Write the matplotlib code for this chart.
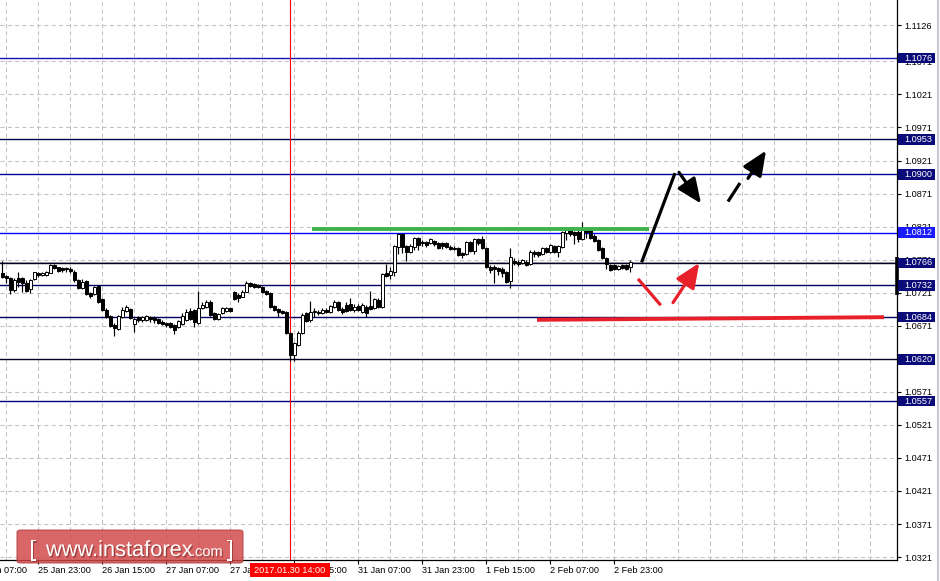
import matplotlib
matplotlib.use("Agg")
import matplotlib.pyplot as plt
import matplotlib.transforms as mtrans
from matplotlib.patches import Rectangle, FancyBboxPatch
from matplotlib.lines import Line2D
import matplotlib.patheffects as pe

plt.rcParams['font.family'] = ['Liberation Sans', 'DejaVu Sans']

# ---------------- data ----------------
start_bar = 7
opens = [1.0751,1.0746,1.0743,1.0725,1.0743,1.0743,1.0736,1.0727,1.0742,1.0751,
         1.0748,1.0748,1.0751,1.0763,1.0760,1.0758,1.0758,1.0757,1.0752,1.0740,
         1.0728,1.0739,1.0721,1.0719,1.0731,1.0712,1.0695,1.0686,1.0672,1.0666,
         1.0684,1.0693,1.0696,1.0674,1.0684,1.0680,1.0680,1.0684,1.0683,1.0681,
         1.0677,1.0675,1.0675,1.0672,1.0669,1.0674,1.0680,1.0693,1.0695,1.0675,
         1.0698,1.0699,1.0707,1.0690,1.0681,1.0690,1.0693,1.0698,1.0722,1.0718,
         1.0715,1.0722,1.0736,1.0734,1.0733,1.0730,1.0724,1.0721,1.0701,1.0696,
         1.0693,1.0692,1.0660,1.0627,1.0642,1.0660,1.0690,1.0680,1.0692,1.0692,
         1.0690,1.0695,1.0692,1.0699,1.0707,1.0696,1.0702,1.0704,1.0695,1.0701,
         1.0692,1.0699,1.0701,1.0698,1.0710,1.0699,1.0751,1.0748,1.0752,1.0790,
         1.0810,1.0792,1.0783,1.0790,1.0804,1.0798,1.0798,1.0796,1.0799,1.0796,
         1.0796,1.0796,1.0790,1.0789,1.0789,1.0781,1.0780,1.0798,1.0784,1.0802,
         1.0802,1.0789,1.0760,1.0760,1.0758,1.0757,1.0752,1.0739,1.0769,1.0768,
         1.0766,1.0768,1.0764,1.0783,1.0783,1.0780,1.0789,1.0783,1.0792,1.0783,
         1.0790,1.0811,1.0816,1.0813,1.0813,1.0802,1.0819,1.0816,1.0807,1.0801,
         1.0789,1.0774,1.0763,1.0763,1.0757,1.0763,1.0763,1.0760]
highs = [1.0769,1.0748,1.0745,1.0743,1.0752,1.0745,1.0740,1.0742,1.0752,1.0752,
         1.0752,1.0754,1.0764,1.0764,1.0760,1.0760,1.0760,1.0760,1.0755,1.0742,
         1.0742,1.0740,1.0722,1.0731,1.0733,1.0713,1.0698,1.0687,1.0675,1.0687,
         1.0699,1.0702,1.0698,1.0683,1.0686,1.0686,1.0687,1.0686,1.0686,1.0683,
         1.0680,1.0677,1.0677,1.0674,1.0680,1.0690,1.0696,1.0698,1.0696,1.0724,
         1.0707,1.0710,1.0710,1.0692,1.0690,1.0699,1.0699,1.0699,1.0724,1.0721,
         1.0725,1.0739,1.0737,1.0736,1.0734,1.0731,1.0725,1.0722,1.0702,1.0698,
         1.0695,1.0693,1.0662,1.0646,1.0663,1.0690,1.0692,1.0709,1.0698,1.0695,
         1.0698,1.0698,1.0702,1.0710,1.0709,1.0699,1.0707,1.0713,1.0704,1.0704,
         1.0705,1.0702,1.0724,1.0713,1.0713,1.0751,1.0764,1.0760,1.0793,1.0811,
         1.0811,1.0793,1.0795,1.0805,1.0805,1.0801,1.0799,1.0804,1.0801,1.0798,
         1.0798,1.0798,1.0793,1.0792,1.0790,1.0783,1.0799,1.0799,1.0804,1.0804,
         1.0807,1.0790,1.0763,1.0763,1.0760,1.0760,1.0754,1.0789,1.0774,1.0771,
         1.0772,1.0771,1.0786,1.0786,1.0784,1.0790,1.0790,1.0795,1.0793,1.0793,
         1.0814,1.0817,1.0817,1.0814,1.0816,1.0828,1.0820,1.0819,1.0810,1.0802,
         1.0790,1.0775,1.0764,1.0764,1.0763,1.0764,1.0764,1.0771]
lows = [1.0743,1.0736,1.0719,1.0722,1.0730,1.0722,1.0722,1.0721,1.0740,1.0745,
        1.0746,1.0746,1.0751,1.0757,1.0752,1.0752,1.0752,1.0751,1.0737,1.0727,
        1.0727,1.0718,1.0713,1.0718,1.0705,1.0693,1.0683,1.0669,1.0656,1.0665,
        1.0683,1.0692,1.0681,1.0662,1.0677,1.0677,1.0678,1.0677,1.0675,1.0674,
        1.0672,1.0669,1.0668,1.0659,1.0668,1.0672,1.0678,1.0680,1.0669,1.0674,
        1.0696,1.0698,1.0686,1.0680,1.0680,1.0689,1.0692,1.0692,1.0710,1.0707,
        1.0715,1.0722,1.0730,1.0728,1.0728,1.0721,1.0718,1.0698,1.0693,1.0684,
        1.0689,1.0659,1.0618,1.0618,1.0640,1.0659,1.0677,1.0677,1.0684,1.0687,
        1.0689,1.0690,1.0690,1.0698,1.0693,1.0689,1.0692,1.0693,1.0692,1.0693,
        1.0690,1.0684,1.0695,1.0696,1.0698,1.0698,1.0745,1.0742,1.0746,1.0780,
        1.0781,1.0769,1.0781,1.0786,1.0786,1.0792,1.0790,1.0795,1.0792,1.0787,
        1.0787,1.0789,1.0786,1.0786,1.0777,1.0774,1.0778,1.0783,1.0780,1.0793,
        1.0787,1.0758,1.0751,1.0736,1.0748,1.0745,1.0736,1.0728,1.0763,1.0761,
        1.0764,1.0761,1.0763,1.0775,1.0775,1.0778,1.0781,1.0781,1.0781,1.0775,
        1.0789,1.0801,1.0807,1.0795,1.0798,1.0801,1.0804,1.0802,1.0798,1.0784,
        1.0772,1.0757,1.0754,1.0755,1.0755,1.0757,1.0755,1.0752]
closes = [1.0745,1.0743,1.0725,1.0740,1.0737,1.0736,1.0724,1.0740,1.0752,1.0748,
          1.0751,1.0752,1.0763,1.0758,1.0754,1.0755,1.0757,1.0754,1.0740,1.0728,
          1.0737,1.0719,1.0716,1.0730,1.0707,1.0695,1.0684,1.0671,1.0668,1.0686,
          1.0695,1.0699,1.0683,1.0681,1.0680,1.0684,1.0686,1.0681,1.0680,1.0675,
          1.0674,1.0672,1.0669,1.0665,1.0678,1.0686,1.0692,1.0681,1.0677,1.0698,
          1.0702,1.0707,1.0687,1.0681,1.0689,1.0698,1.0698,1.0693,1.0712,1.0713,
          1.0722,1.0736,1.0731,1.0730,1.0730,1.0722,1.0719,1.0699,1.0695,1.0692,
          1.0690,1.0660,1.0627,1.0645,1.0660,1.0687,1.0678,1.0692,1.0693,1.0690,
          1.0695,1.0692,1.0701,1.0707,1.0695,1.0692,1.0693,1.0695,1.0699,1.0695,
          1.0702,1.0690,1.0696,1.0712,1.0699,1.0749,1.0746,1.0754,1.0792,1.0810,
          1.0790,1.0783,1.0792,1.0804,1.0793,1.0796,1.0793,1.0802,1.0795,1.0789,
          1.0792,1.0790,1.0787,1.0787,1.0778,1.0778,1.0798,1.0784,1.0802,1.0796,
          1.0789,1.0760,1.0755,1.0757,1.0754,1.0751,1.0737,1.0775,1.0766,1.0764,
          1.0771,1.0763,1.0783,1.0780,1.0778,1.0789,1.0783,1.0793,1.0783,1.0792,
          1.0813,1.0816,1.0810,1.0808,1.0802,1.0816,1.0813,1.0804,1.0799,1.0786,
          1.0774,1.0764,1.0755,1.0757,1.0761,1.0758,1.0757,1.0768]
bars = list(range(start_bar, start_bar + len(opens)))

x_tick_bars = [16, 32, 48, 64, 80, 96, 112, 128, 144, 160]
x_tick_labels = ["25 Jan 23:00", "26 Jan 15:00", "27 Jan 07:00", "27 Jan 23:00",
                 "30 Jan 15:00", "31 Jan 07:00", "31 Jan 23:00", "1 Feb 15:00",
                 "2 Feb 07:00", "2 Feb 23:00"]
first_label_bar = 0
first_label = "25 Jan 07:00"

y_ticks = [1.1126, 1.1071, 1.1021, 1.0971, 1.0921, 1.0871, 1.0821, 1.0771, 1.0721,
           1.0671, 1.0621, 1.0571, 1.0521, 1.0471, 1.0421, 1.0371, 1.0321]

levels = [1.1076, 1.0953, 1.0900, 1.0812, 1.0766, 1.0732, 1.0684, 1.0620, 1.0557]
level_colors = ['#1414b4', '#000050', '#0000a0', '#0000ff', '#000028', '#000060',
                '#000060', '#000028', '#000080']
label_colors = ['#0a0a78', '#0a0a78', '#0a0a78', '#1a1aff', '#0a0a78', '#0a0a78',
                '#0a0a78', '#0a0a78', '#0a0a78']

marker_bar = 79
marker_label = "2017.01.30 14:00"

green_x = [84.4, 168.75]
green_y = [1.0818, 1.0818]
red_x = [140.75, 227.5]
red_y = [1.0680, 1.0684]
black_path_x = [166.9, 175.25]
black_path_y = [1.0767, 1.0902]
black_arrow_from = (176.25, 1.0903)
black_arrow_to = (181.75, 1.0856)
dash_seg_x = [188.5, 191.5]
dash_seg_y = [1.0859, 1.0887]
dash_arrow_from = (193.5, 1.0894)
dash_arrow_to = (198.0, 1.0936)
red_path_x = [166.0, 171.7]
red_path_y = [1.0742, 1.0702]
red_arrow_from = (174.75, 1.0706)
red_arrow_to = (181.3, 1.0766)

# ---------------- figure ----------------
W, H = 940, 581
fig = plt.figure(figsize=(W / 100, H / 100), dpi=100)
fig.patch.set_facecolor('white')
ax = fig.add_axes([0, 21 / H, 897 / W, 560 / H])
ax.set_xlim(6.5, 230.75)
ax.set_ylim(1.03166, 1.11639)
ax.set_facecolor('white')

for s in ['left', 'top']:
    ax.spines[s].set_visible(False)
for s in ['right', 'bottom']:
    ax.spines[s].set_color('black')
    ax.spines[s].set_linewidth(0.9)

blend_ay = mtrans.blended_transform_factory(ax.transAxes, ax.transData)
blend_xa = mtrans.blended_transform_factory(ax.transData, ax.transAxes)

# grid
for v in y_ticks:
    ax.axhline(v, color='#c3c3c3', lw=0.75, ls=(0, (4, 3)), zorder=0.5)
for k in range(8, 232, 8):
    ax.axvline(k, color='#c3c3c3', lw=0.75, ls=(0, (4, 3)), zorder=0.5)

# level lines
for lv, c in zip(levels, level_colors):
    ax.axhline(lv, color=c, lw=1.0, zorder=1.5)
# bid line
ax.axhline(closes[-1], color='#b4b4b4', lw=0.8, zorder=1.4)

# vertical marker line
ax.axvline(marker_bar, color='#ff0000', lw=0.8, zorder=1.6)

# candles
ax.vlines(bars, lows, highs, color='black', lw=0.85, zorder=3)
bottoms = [min(o, c) for o, c in zip(opens, closes)]
heights = [abs(c - o) for o, c in zip(opens, closes)]
fills = ['black' if c < o else 'white' for o, c in zip(opens, closes)]
ax.bar(bars, heights, bottom=bottoms, width=0.75, color=fills,
       edgecolor='black', linewidth=0.7, zorder=4)

# drawings
ax.plot(green_x, green_y, color='#3cb44b', lw=2.8, solid_capstyle='butt', zorder=5)
ax.plot(red_x, red_y, color='#e8202a', lw=2.8, solid_capstyle='butt', zorder=5)
ax.plot(black_path_x, black_path_y, color='black', lw=2.3, solid_capstyle='butt', zorder=6)
ax.plot(dash_seg_x, dash_seg_y, color='black', lw=2.3, solid_capstyle='butt', zorder=6)
ax.plot(red_path_x, red_path_y, color='#e8202a', lw=2.3, solid_capstyle='butt', zorder=6)
astyle = "-|>,head_length=15,head_width=6.5"
for (p0, p1, col) in [(black_arrow_from, black_arrow_to, 'black'),
                      (dash_arrow_from, dash_arrow_to, 'black'),
                      (red_arrow_from, red_arrow_to, '#e8202a')]:
    ax.annotate('', xy=p1, xytext=p0,
                arrowprops=dict(arrowstyle=astyle, mutation_scale=1, color=col,
                                lw=2.3, shrinkA=0, shrinkB=0), zorder=6)

# axes ticks
ax.yaxis.tick_right()
ax.set_yticks(y_ticks)
ax.set_yticklabels([f"{v:.4f}" for v in y_ticks])
ax.tick_params(axis='y', length=3, width=0.8, pad=2, labelsize=6.6, colors='black')
ax.set_xticks(x_tick_bars)
ax.set_xticklabels(x_tick_labels)
ax.tick_params(axis='x', length=3, width=0.8, pad=1.5, labelsize=6.6, colors='black')
for lab in ax.get_xticklabels():
    lab.set_ha('left')
ax.text(first_label_bar, -0.0112, first_label, transform=blend_xa, ha='left',
        va='top', fontsize=6.6, clip_on=False)

# level labels on the price scale
for lv, c in zip(levels, label_colors):
    ax.add_patch(Rectangle((1.0014, lv - 0.00078), 0.041, 0.00156, transform=blend_ay,
                           fc=c, ec='none', clip_on=False, zorder=10))
    ax.text(1.0078, lv, f"{lv:.4f}", transform=blend_ay, ha='left', va='center',
            color='white', fontsize=6.6, clip_on=False, zorder=11)

# thick segment of the price scale
ax.plot([1.0, 1.0], [1.0718, 1.0775], transform=blend_ay, color='black', lw=2.6,
        solid_capstyle='butt', clip_on=False, zorder=9)

# time marker label
ax.add_patch(Rectangle((marker_bar - 10, -0.0054), 20, -0.025, transform=blend_xa,
                       fc='#ff0000', ec='none', clip_on=False, zorder=10))
ax.text(marker_bar, -0.0182, marker_label, transform=blend_xa, ha='center', va='center',
        color='white', fontsize=6.6, clip_on=False, zorder=11)

# right light border
fig.add_artist(Line2D([937.5 / W] * 2, [0, 1], transform=fig.transFigure,
                      color='#c8cad4', lw=1.5))

# logo watermark
logo = FancyBboxPatch((17 / W, (H - 563) / H), 226 / W, 33 / H,
                      boxstyle="round,pad=0,rounding_size=0.004",
                      transform=fig.transFigure, fc=(0.82, 0.27, 0.27), ec=(0.7, 0.25, 0.25),
                      lw=0.8, alpha=0.82, zorder=20)
fig.add_artist(logo)
shadow = [pe.SimplePatchShadow(offset=(1, -1), shadow_rgbFace='#6a1a1a', alpha=0.5), pe.Normal()]
base_y = (H - 556) / H
for txt, xpx, fs in [("[", 29.5, 16), ("www.instaforex", 46, 15.7), (".com", 191, 10.5), ("]", 227, 16)]:
    fig.text(xpx / W, base_y, txt, color='white', fontsize=fs, va='baseline', ha='left',
             zorder=21, path_effects=shadow)

fig.savefig("out.png", dpi=100)
